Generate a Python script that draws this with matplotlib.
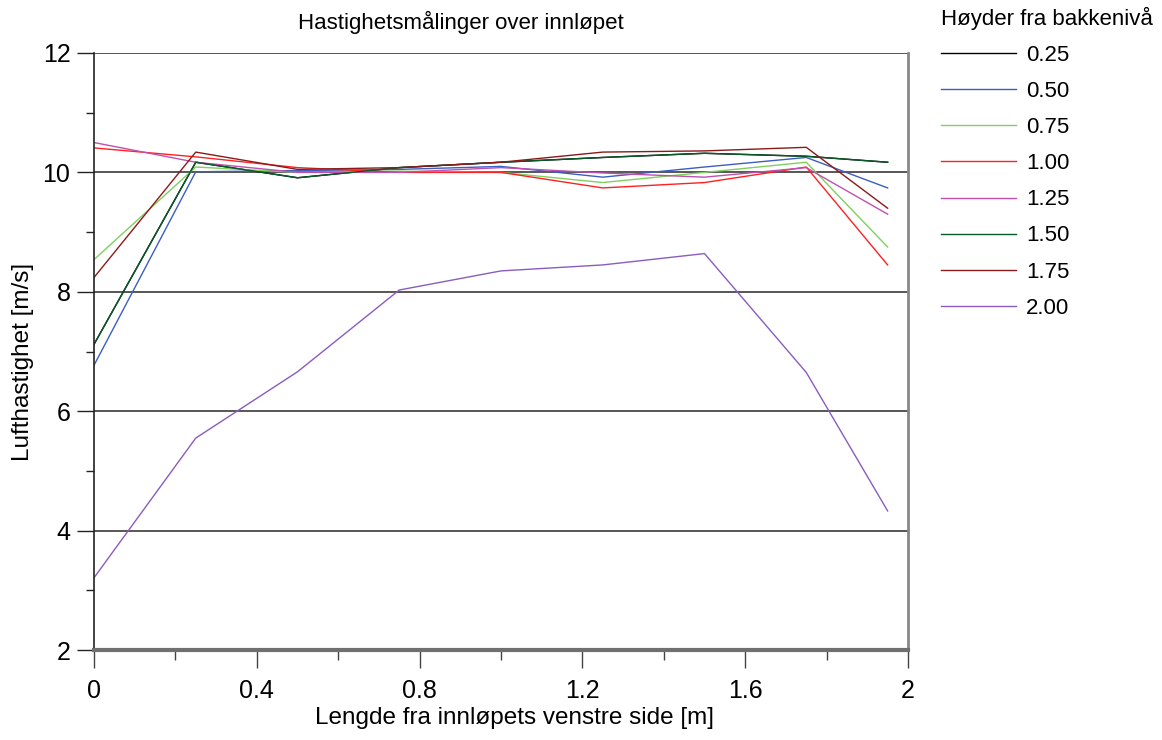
import matplotlib
matplotlib.use("Agg")
import matplotlib.pyplot as plt
from matplotlib.ticker import MultipleLocator

plt.rcParams['font.family'] = ['Liberation Sans', 'DejaVu Sans']

# malepunkter langs innlopet [m]
x = [0, 0.25, 0.5, 0.75, 1.0, 1.25, 1.5, 1.75, 1.95]

# lufthastighet [m/s] for hver hoyde over bakken
h025 = [7.12, 10.17, 9.91, 10.08, 10.17, 10.25, 10.32, 10.27, 10.17]
h050 = [6.77, 10.01, 10.03, 10.05, 10.10, 9.92, 10.09, 10.25, 9.74]
h075 = [8.54, 10.09, 10.00, 10.02, 10.00, 9.83, 10.00, 10.17, 8.75]
h100 = [10.41, 10.26, 10.08, 10.00, 10.00, 9.74, 9.83, 10.09, 8.45]
h125 = [10.50, 10.17, 10.00, 10.00, 10.08, 9.99, 9.92, 10.08, 9.30]
h150 = [7.12, 10.17, 9.91, 10.08, 10.17, 10.25, 10.32, 10.27, 10.17]
h175 = [8.24, 10.34, 10.05, 10.08, 10.17, 10.34, 10.36, 10.42, 9.40]
h200 = [3.21, 5.55, 6.66, 8.03, 8.35, 8.45, 8.64, 6.65, 4.33]

labels = ['0.25', '0.50', '0.75', '1.00', '1.25', '1.50', '1.75', '2.00']
series = [h025, h050, h075, h100, h125, h150, h175, h200]
colors = ['#000000', '#3b5fc0', '#7fd05f', '#ff2020', '#c050b0',
          '#0a5a2a', '#8b1a1a', '#8a5cc0']

fig = plt.figure(figsize=(11.62, 7.40), dpi=100)
ax = fig.add_axes([0.0809, 0.1216, 0.7005, 0.8068])

for ys, c, lab in zip(series, colors, labels):
    ax.plot(x, ys, color=c, lw=1.0, label=lab)

ax.set_xlim(0, 2)
ax.set_ylim(2, 12)
ax.xaxis.set_minor_locator(MultipleLocator(0.2))
ax.yaxis.set_major_locator(MultipleLocator(2))
ax.yaxis.set_minor_locator(MultipleLocator(1))
ax.set_xticks([0, 0.4, 0.8, 1.2, 1.6, 2.0], ['0', '0.4', '0.8', '1.2', '1.6', '2'])

ax.tick_params(axis='y', which='major', direction='out', length=12, width=1,
               labelsize=18, pad=5, color='#222222')
ax.tick_params(axis='y', which='minor', direction='out', length=6, width=1,
               color='#222222')
ax.tick_params(axis='x', which='major', direction='out', length=13, width=1,
               labelsize=18, pad=8, color='#444444')
ax.tick_params(axis='x', which='minor', direction='out', length=7, width=1,
               color='#444444')

ax.grid(axis='y', which='major', color='#3a3a3a', lw=1.2)
ax.set_axisbelow(True)
ax.spines['top'].set_visible(False)
ax.spines['left'].set_color('#222222')
ax.spines['left'].set_linewidth(1.2)
ax.spines['right'].set_color('#888888')
ax.spines['right'].set_linewidth(2)
ax.spines['bottom'].set_color('#707070')
ax.spines['bottom'].set_linewidth(3)

ax.set_xlabel('Lengde fra innløpets venstre side [m]', fontsize=17.5)
ax.xaxis.set_label_coords(0.516, -0.095)
ax.set_ylabel('Lufthastighet [m/s]', fontsize=17.5)
ax.yaxis.set_label_coords(-0.074, 0.482)

fig.text(0.397, 1 - 22 / 740, 'Hastighetsmålinger over innløpet',
         ha='center', va='center', fontsize=16)

leg = fig.legend(loc='upper left', bbox_to_anchor=(0.796, 1.012),
                 title='Høyder fra bakkenivå', frameon=False, fontsize=16,
                 title_fontsize=16, handlelength=3.4, handletextpad=0.45,
                 labelspacing=0.68, alignment='left', borderaxespad=0.3)

fig.savefig('out.png', dpi=100)
